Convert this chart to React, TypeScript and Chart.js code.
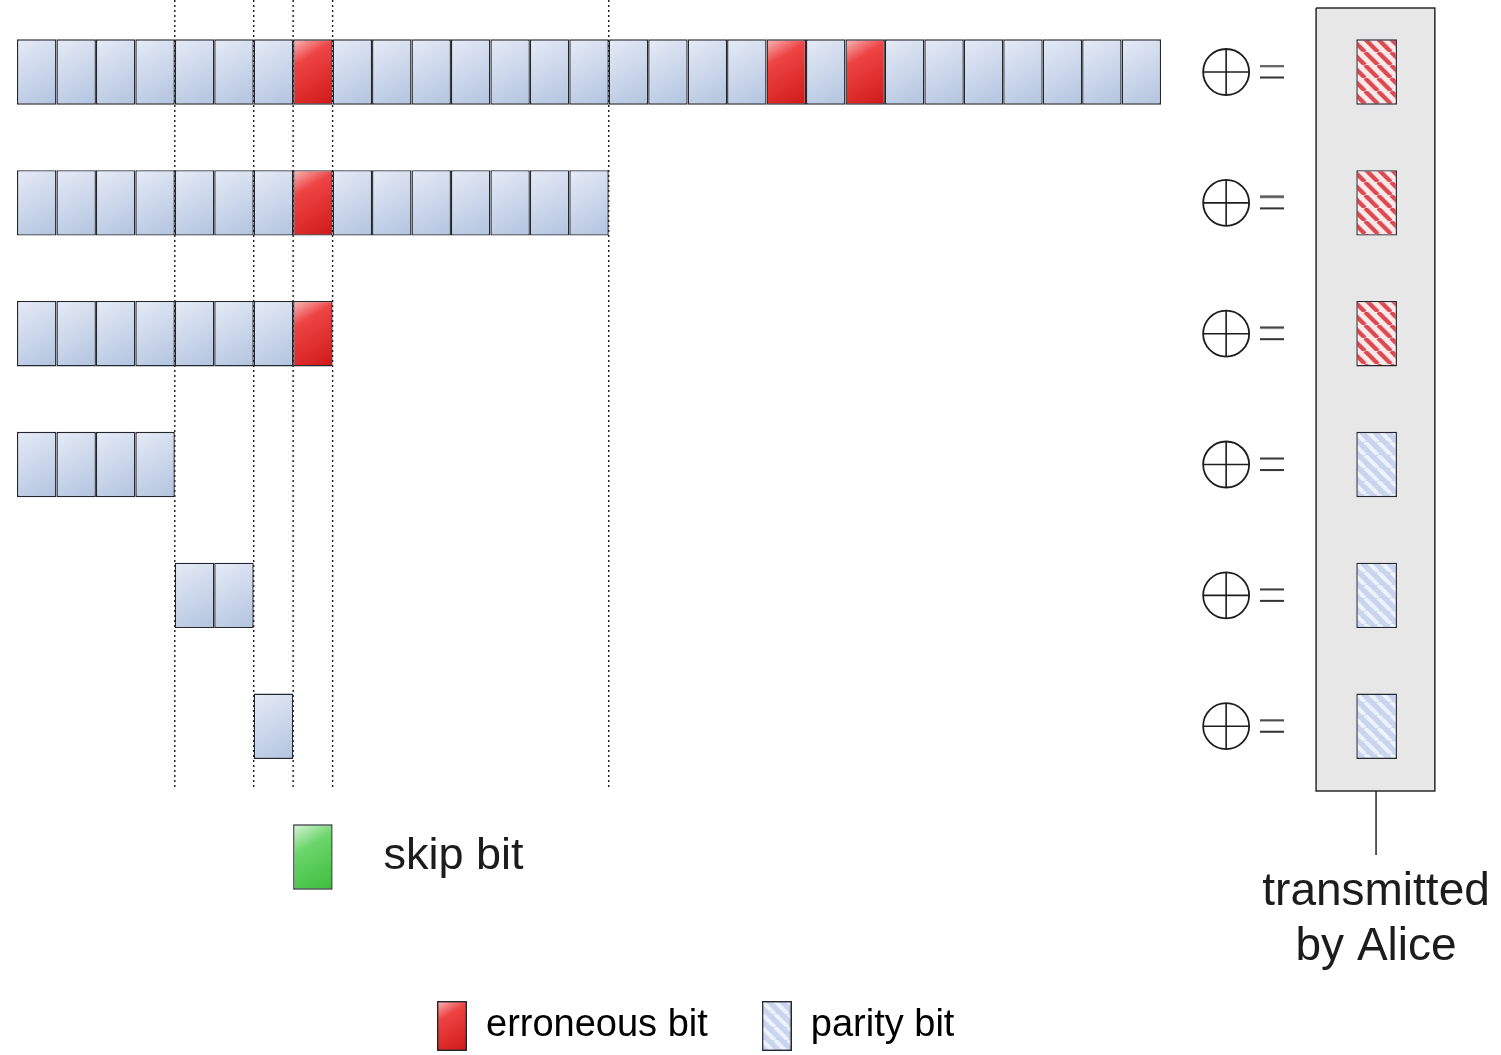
import React, { useEffect, useRef } from 'react';
import { Chart, registerables } from 'chart.js';

Chart.register(...registerables);

// ---------------- data ----------------
const rowIds = [1, 2, 3, 4, 5, 6];
const rowFirstBit = [0, 0, 0, 0, 4, 6];
const rowBitCount = [29, 15, 8, 4, 2, 1];
const erroneousBits = [[7, 19, 21], [7], [7], [], [], []];
const parityIsErroneous = [true, true, true, false, false, false];
const blockBoundaries = [4, 6, 7, 8, 15];
const skipBits = [7];
const skipRow = 7;
const legendTexts = ['erroneous bit', 'parity bit'];
const skipText = 'skip bit';
const senderTexts = ['transmitted', 'by Alice'];

// ---------------- layout (scale units / pixels) ----------------
const FONT = '"Liberation Sans", Arial, Helvetica, sans-serif';
const W = 1501;
const H = 1055;
const PX0 = 17; // pixel of bit position 0
const UNIT = 39.45; // pixels per bit
const ROW1_PX = 72; // pixel centre of row 1
const ROW_PITCH = 130.84;
const PAD_LEFT = 383;
const LEGEND_H = 102;

const X_MIN = (PAD_LEFT - PX0) / UNIT;
const X_MAX = (W - PX0) / UNIT;
const Y_MIN = 1 - ROW1_PX / ROW_PITCH;
const Y_MAX = Y_MIN + (H - LEGEND_H) / ROW_PITCH;

const PARITY_X = [33.95, 34.98];
const BOX_X = [32.93, 35.94];
const BOX_Y = [0.51, 6.496];
const XOR_X = 30.65;
const EQ_X = 31.81;
const DIVIDER_Y = [Y_MIN, 6.488];
const CONNECT_X = 34.45;
const CONNECT_Y = [6.496, 6.984];
const SKIP_TEXT_POS = { x: 9.29, y: 7.09 };
const SENDER_TEXT_X = 34.45;
const SENDER_TEXT_Y = [7.367, 7.787];

const BLUE_STOPS: [number, string][] = [[0, '#e6ebf6'], [1, '#b2c4e0']];
const RED_STOPS: [number, string][] = [[0, '#f8bcbc'], [0.3, '#ee4444'], [1, '#cf1818']];
const GREEN_STOPS: [number, string][] = [[0, '#dcf6dc'], [0.35, '#6cd66c'], [1, '#3bbd3b']];

function cellFill(stops: [number, string][], fallback: string) {
  return (c: any) => {
    if (c.type !== 'data' || !c.raw) return fallback;
    const chart = c.chart;
    const xs = chart.scales.x;
    const ys = chart.scales.y;
    if (!xs || !ys) return fallback;
    const x0 = xs.getPixelForValue(c.raw.x[0]);
    const x1 = xs.getPixelForValue(c.raw.x[1]);
    const yc = ys.getPixelForValue(c.raw.y);
    const h = Math.abs(ys.getPixelForValue(c.raw.y + 0.25) - ys.getPixelForValue(c.raw.y - 0.25));
    if (![x0, x1, yc, h].every((v) => Number.isFinite(v))) return fallback;
    const g = chart.ctx.createLinearGradient(x0, yc - h / 2, x1, yc + h / 2);
    stops.forEach(([o, col]) => g.addColorStop(o, col));
    return g;
  };
}

function hatchTile(bg: string, stripe: string, lw: number, size: number) {
  const c = document.createElement('canvas');
  c.width = size;
  c.height = size;
  const g = c.getContext('2d')!;
  g.fillStyle = bg;
  g.fillRect(0, 0, size, size);
  g.strokeStyle = stripe;
  g.lineWidth = lw;
  for (const k of [-size, 0, size]) {
    g.beginPath();
    g.moveTo(k, 0);
    g.lineTo(k + size, size);
    g.stroke();
  }
  return c;
}

function legendBox(fill: (g: CanvasRenderingContext2D, w: number, h: number) => void) {
  const c = document.createElement('canvas');
  c.width = 30;
  c.height = 50;
  const g = c.getContext('2d')!;
  fill(g, 30, 50);
  g.strokeStyle = '#23272f';
  g.lineWidth = 1.4;
  g.strokeRect(0.7, 0.7, 28.6, 48.6);
  return c;
}

function equalsGlyph() {
  const c = document.createElement('canvas');
  c.width = 24;
  c.height = 15;
  const g = c.getContext('2d')!;
  g.fillStyle = '#333';
  g.fillRect(0, 0.5, 24, 2);
  g.fillRect(0, 12, 24, 2);
  return c;
}

const textPlugin = {
  id: 'diagramText',
  afterDatasetsDraw(chart: any) {
    const { ctx } = chart;
    const xs = chart.scales.x;
    const ys = chart.scales.y;
    ctx.save();
    ctx.fillStyle = '#1c1c1c';
    ctx.textBaseline = 'alphabetic';
    ctx.textAlign = 'left';
    ctx.font = `45px ${FONT}`;
    ctx.fillText(skipText, xs.getPixelForValue(SKIP_TEXT_POS.x), ys.getPixelForValue(SKIP_TEXT_POS.y));
    ctx.textAlign = 'center';
    ctx.font = `46px ${FONT}`;
    senderTexts.forEach((t, i) => {
      ctx.fillText(t, xs.getPixelForValue(SENDER_TEXT_X), ys.getPixelForValue(SENDER_TEXT_Y[i]));
    });
    ctx.restore();
  },
};

export default function App() {
  const ref = useRef<HTMLCanvasElement>(null);

  useEffect(() => {
    const canvas = ref.current;
    if (!canvas) return;
    const c2d = canvas.getContext('2d')!;

    const redTile = hatchTile('#fbe9e9', '#dc4a52', 4.2, 13);
    const blueTile = hatchTile('#c9d5ef', '#eef2fb', 4, 13);
    const redHatch = c2d.createPattern(redTile, 'repeat')!;
    const blueHatch = c2d.createPattern(blueTile, 'repeat')!;

    const legendImgs = [
      legendBox((g, w, h) => {
        const gr = g.createLinearGradient(0, 0, w, h);
        RED_STOPS.forEach(([o, col]) => gr.addColorStop(o, col));
        g.fillStyle = gr;
        g.fillRect(0, 0, w, h);
      }),
      legendBox((g, w, h) => {
        g.fillStyle = g.createPattern(blueTile, 'repeat')!;
        g.fillRect(0, 0, w, h);
      }),
    ];

    const normalData: any[] = [];
    const errData: any[] = [];
    rowIds.forEach((r, k) => {
      for (let i = 0; i < rowBitCount[k]; i++) {
        const p = rowFirstBit[k] + i;
        const pt = { x: [p, p + 1], y: r };
        if (erroneousBits[k].includes(p)) errData.push(pt);
        else normalData.push(pt);
      }
    });
    const parityData = rowIds.map((r) => ({ x: [PARITY_X[0], PARITY_X[1]], y: r }));
    const skipData = skipBits.map((p) => ({ x: [p, p + 1], y: skipRow }));

    const barCommon = {
      type: 'bar' as const,
      indexAxis: 'y' as const,
      grouped: false,
      barPercentage: 0.5,
      categoryPercentage: 1,
      borderColor: '#23272f',
      borderWidth: 1.4,
      borderSkipped: false,
      clip: false as const,
      order: 2,
    };

    const lineCommon = {
      type: 'scatter' as const,
      showLine: true,
      pointRadius: 0,
      clip: false as const,
      tension: 0,
    };

    const datasets: any[] = [
      {
        ...barCommon,
        label: 'bit',
        data: normalData,
        backgroundColor: cellFill(BLUE_STOPS, '#cbd7ea'),
      },
      {
        ...barCommon,
        label: 'erroneous bit',
        data: errData,
        backgroundColor: cellFill(RED_STOPS, '#e83030'),
      },
      {
        ...barCommon,
        label: 'parity bit',
        data: parityData,
        backgroundColor: (c: any) =>
          c.raw && parityIsErroneous[rowIds.indexOf(c.raw.y)] ? redHatch : blueHatch,
      },
      {
        ...barCommon,
        label: 'skip bit',
        data: skipData,
        backgroundColor: cellFill(GREEN_STOPS, '#5fcf5f'),
      },
      ...blockBoundaries.map((b) => ({
        ...lineCommon,
        label: 'boundary',
        data: [
          { x: b, y: DIVIDER_Y[0] },
          { x: b, y: DIVIDER_Y[1] },
        ],
        borderColor: '#1a1a1a',
        borderWidth: 1.4,
        borderDash: [2, 3],
        order: 9,
      })),
      {
        ...lineCommon,
        label: 'transmitted box',
        data: [
          { x: BOX_X[0], y: BOX_Y[0] },
          { x: BOX_X[1], y: BOX_Y[0] },
          { x: BOX_X[1], y: BOX_Y[1] },
          { x: BOX_X[0], y: BOX_Y[1] },
          { x: BOX_X[0], y: BOX_Y[0] },
        ],
        fill: 'shape',
        backgroundColor: '#e7e7e7',
        borderColor: '#2a2a2a',
        borderWidth: 1.5,
        order: 10,
      },
      {
        ...lineCommon,
        label: 'connector',
        data: [
          { x: CONNECT_X, y: CONNECT_Y[0] },
          { x: CONNECT_X, y: CONNECT_Y[1] },
        ],
        borderColor: '#2a2a2a',
        borderWidth: 1.5,
        order: 9,
      },
      {
        type: 'scatter',
        label: 'xor circle',
        data: rowIds.map((r) => ({ x: XOR_X, y: r })),
        pointStyle: 'circle',
        pointRadius: 23,
        pointBorderWidth: 1.8,
        pointBorderColor: '#1e1e1e',
        pointBackgroundColor: 'rgba(0,0,0,0)',
        clip: false,
        order: 1,
      },
      {
        type: 'scatter',
        label: 'xor cross',
        data: rowIds.map((r) => ({ x: XOR_X, y: r })),
        pointStyle: 'cross',
        pointRadius: 23,
        pointBorderWidth: 1.6,
        pointBorderColor: '#1e1e1e',
        clip: false,
        order: 1,
      },
      {
        type: 'scatter',
        label: 'equals',
        data: rowIds.map((r) => ({ x: EQ_X, y: r })),
        pointStyle: equalsGlyph(),
        pointRadius: 12,
        clip: false,
        order: 1,
      },
    ];

    const chart = new Chart(canvas, {
      type: 'bar',
      data: { datasets },
      options: {
        animation: false,
        responsive: true,
        maintainAspectRatio: false,
        events: [],
        layout: { autoPadding: false, padding: { left: PAD_LEFT, right: 0, top: 0, bottom: 0 } },
        scales: {
          x: {
            type: 'linear',
            min: X_MIN,
            max: X_MAX,
            offset: false,
            display: false,
          },
          y: {
            type: 'linear',
            min: Y_MIN,
            max: Y_MAX,
            reverse: true,
            offset: false,
            display: false,
            ticks: { stepSize: 1, includeBounds: false },
          },
        },
        plugins: {
          tooltip: { enabled: false },
          legend: {
            display: true,
            position: 'bottom',
            align: 'start',
            labels: {
              usePointStyle: true,
              pointStyleWidth: 30,
              padding: 54,
              color: '#1c1c1c',
              font: { family: FONT, size: 38 },
              generateLabels: () =>
                legendTexts.map((t, i) => ({
                  text: t,
                  pointStyle: legendImgs[i],
                  fillStyle: 'rgba(0,0,0,0)',
                  strokeStyle: 'rgba(0,0,0,0)',
                  lineWidth: 0,
                  hidden: false,
                  datasetIndex: i + 1,
                })),
            },
          },
        },
      } as any,
      plugins: [textPlugin],
    } as any);

    return () => chart.destroy();
  }, []);

  return (
    <div style={{ position: 'absolute', left: 0, top: 0, width: W, height: H, background: '#fff' }}>
      <canvas ref={ref} />
    </div>
  );
}
